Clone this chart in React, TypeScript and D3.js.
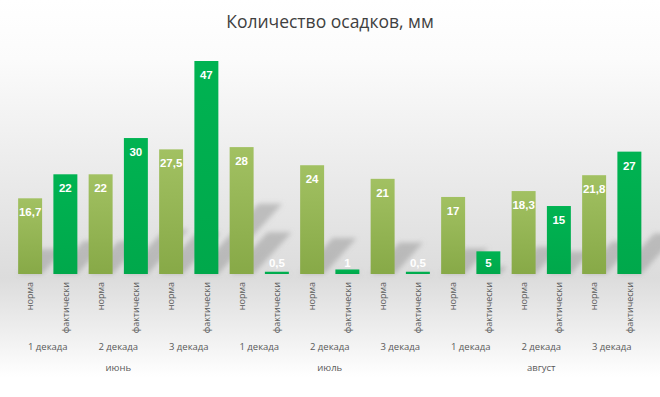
import React from "react";
import * as d3 from "d3";

const title = "Количество осадков, мм";
const months = ["июнь", "июль", "август"];
const decades = ["1 декада", "2 декада", "3 декада"];
const kinds = ["норма", "фактически"];
const normValues = [16.7, 22, 27.5, 28, 24, 21, 17, 18.3, 21.8];
const factValues = [22, 30, 47, 0.5, 1, 0.5, 5, 15, 27];

const W = 660;
const H = 397;
const FONT = "'Open Sans', 'DejaVu Sans', sans-serif";

type Bar = { i: number; kind: number; value: number; group: number };

const bars: Bar[] = [];
normValues.forEach((v, g) => {
  bars.push({ i: g * 2, kind: 0, value: v, group: g });
  bars.push({ i: g * 2 + 1, kind: 1, value: factValues[g], group: g });
});

const fmt = (v: number) => String(v).replace(".", ",");

export default function App() {
  const x = d3
    .scaleBand<number>()
    .domain(d3.range(bars.length))
    .range([12.5, 647])
    .paddingInner(0.32)
    .paddingOuter(0.16);
  const y = d3.scaleLinear().domain([0, 47]).range([274, 61]);
  const base = y(0);
  const bw = x.bandwidth();
  const step = x.step();

  const shadowPath = (b: Bar) => {
    const x0 = x(b.i)!;
    const h = base - y(b.value);
    const dy = h * 0.33;
    const dx = h * 0.3;
    return `M${x0},${base} L${x0 + bw},${base} L${x0 + bw + dx},${base - dy} L${x0 + dx},${base - dy} Z`;
  };

  return (
    <svg
      width={W}
      height={H}
      style={{ position: "absolute", left: 0, top: 0, fontFamily: FONT }}
    >
      <defs>
        <linearGradient id="bg" x1="0" y1="0" x2="0" y2="1">
          <stop offset="0" stopColor="#ffffff" />
          <stop offset="0.15" stopColor="#fbfbfb" />
          <stop offset="0.45" stopColor="#eaeaea" />
          <stop offset="0.7" stopColor="#dcdcdc" />
          <stop offset="0.84" stopColor="#efefef" />
          <stop offset="0.95" stopColor="#ffffff" />
          <stop offset="1" stopColor="#ffffff" />
        </linearGradient>
        <linearGradient id="norm" x1="0" y1="0" x2="0" y2="1">
          <stop offset="0" stopColor="#a2c162" />
          <stop offset="1" stopColor="#87a947" />
        </linearGradient>
        <linearGradient id="fact" x1="0" y1="0" x2="0" y2="1">
          <stop offset="0" stopColor="#00b352" />
          <stop offset="1" stopColor="#00a84b" />
        </linearGradient>
        <filter id="blur" x="-20%" y="-20%" width="140%" height="140%">
          <feGaussianBlur stdDeviation="2.5" />
        </filter>
      </defs>
      <rect x={0} y={0} width={W} height={H} fill="url(#bg)" />
      <text
        x={W / 2}
        y={28}
        textAnchor="middle"
        fontSize={17.5}
        fill="#404040"
      >
        {title}
      </text>

      <g filter="url(#blur)">
        {bars.map((b) => (
          <path key={"s" + b.i} d={shadowPath(b)} fill="#8c8c8c" opacity={0.45} />
        ))}
      </g>

      {bars.map((b) => {
        const top = y(b.value);
        const cx = x(b.i)! + bw / 2;
        const ly = Math.min(top + 14, 263);
        return (
          <g key={"b" + b.i}>
            <rect
              x={x(b.i)!}
              y={top}
              width={bw}
              height={base - top}
              fill={b.kind === 0 ? "url(#norm)" : "url(#fact)"}
            />
            <text
              x={cx}
              y={ly}
              dy="0.35em"
              textAnchor="middle"
              fontSize={11.5}
              fontWeight="bold"
              fontFamily="'Liberation Sans', Arial, sans-serif"
              fill="#ffffff"
            >
              {fmt(b.value)}
            </text>
            <text
              transform={`translate(${cx},${282}) rotate(-90)`}
              dy="0.35em"
              textAnchor="end"
              fontSize={9}
              fill="#595959"
            >
              {kinds[b.kind]}
            </text>
          </g>
        );
      })}

      {d3.range(normValues.length).map((g) => {
        const cx = x(g * 2)! + step / 2 + bw / 2;
        return (
          <text
            key={"d" + g}
            x={cx}
            y={347}
            dy="0.35em"
            textAnchor="middle"
            fontSize={9.5}
            fill="#595959"
          >
            {decades[g % 3]}
          </text>
        );
      })}

      {months.map((m, k) => {
        const first = x(k * 6)! + bw / 2;
        const last = x(k * 6 + 5)! + bw / 2;
        return (
          <text
            key={"m" + k}
            x={(first + last) / 2}
            y={368}
            dy="0.35em"
            textAnchor="middle"
            fontSize={9.5}
            fill="#595959"
          >
            {m}
          </text>
        );
      })}
    </svg>
  );
}
